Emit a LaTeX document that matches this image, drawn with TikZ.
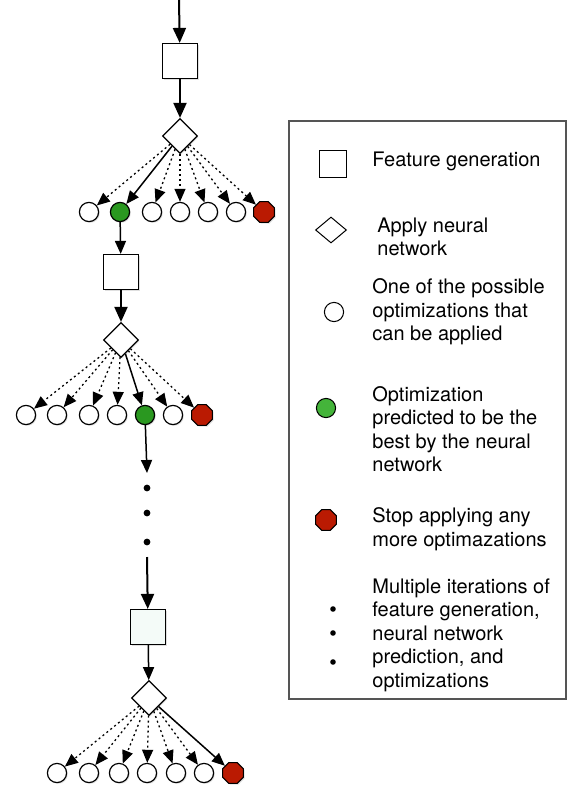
\documentclass[tikz,border=0pt]{standalone}
\usepackage{fontspec}
\setmainfont{TeX Gyre Heros}
\usepackage{tikz}
\usetikzlibrary{arrows.meta,shapes,shadows}
\usepackage{xcolor}
\definecolor{bestgreen}{RGB}{42,152,32}
\definecolor{keygreen}{RGB}{68,180,58}
\definecolor{stopred}{RGB}{186,26,2}
\definecolor{boxgray}{RGB}{85,85,85}
\definecolor{lastfill}{RGB}{244,251,248}

\begin{document}
\begin{tikzpicture}[x=0.5pt, y=-0.5pt,
  soft shadow/.style={drop shadow={shadow xshift=0.6pt, shadow yshift=-0.6pt, opacity=0.25}},
  feat node/.style={rectangle, draw, fill=white, line width=0.6pt, minimum size=17.5pt, inner sep=0, soft shadow},
  nn node/.style={diamond, draw, fill=white, line width=0.6pt, minimum width=17.5pt, minimum height=17.5pt, inner sep=0, soft shadow},
  opt node/.style={circle, draw, fill=white, line width=0.6pt, minimum size=9.6pt, inner sep=0, soft shadow},
  best node/.style={opt node, fill=bestgreen},
  stop node/.style={regular polygon, regular polygon sides=8, draw, fill=stopred, line width=0.5pt, minimum size=11.2pt, inner sep=0, soft shadow},
  dot node/.style={circle, fill, minimum size=3.4pt, inner sep=0},
  main edge/.style={-{Triangle[length=7.5pt,width=6.5pt]}, line width=1pt},
  pick edge/.style={-{Triangle[length=6.5pt,width=5.5pt]}, line width=0.75pt},
  try edge/.style={-{Triangle[length=6.5pt,width=5.5pt]}, line width=0.65pt, dash pattern=on 1pt off 1.5pt},
  key text/.style={anchor=west, align=left, inner sep=0, font=\fontsize{10}{11.75}\selectfont}]
\useasboundingbox (0,0) rectangle (569,788);

% first step
\coordinate (top) at (179,0);
\node[feat node] (f1) at (180,61) {};
\node[nn node] (n1) at (180,136) {};
\node[opt node] (o11) at (89,212) {};
\node[best node] (o12) at (120,212) {};
\node[opt node] (o13) at (152,212) {};
\node[opt node] (o14) at (180,212) {};
\node[opt node] (o15) at (208,212) {};
\node[opt node] (o16) at (236,212) {};
\node[stop node] (o17) at (264,212) {};

% second step
\node[feat node] (f2) at (121,272) {};
\node[nn node] (n2) at (121,340) {};
\node[opt node] (o21) at (26,415) {};
\node[opt node] (o22) at (57,415) {};
\node[opt node] (o23) at (89,415) {};
\node[opt node] (o24) at (117,415) {};
\node[best node] (o25) at (145,415) {};
\node[opt node] (o26) at (173,415) {};
\node[stop node] (o27) at (202,415) {};

% more steps
\coordinate (e1) at (147,473);
\node[dot node] (d1) at (147,488) {};
\node[dot node] (d2) at (147,513) {};
\node[dot node] (d3) at (147,542) {};
\coordinate (e2) at (147,557);

% last step
\node[feat node, fill=lastfill] (f3) at (148,627) {};
\node[nn node] (n3) at (149,698) {};
\node[opt node] (o31) at (57,773) {};
\node[opt node] (o32) at (89,773) {};
\node[opt node] (o33) at (119,773) {};
\node[opt node] (o34) at (147,773) {};
\node[opt node] (o35) at (176,773) {};
\node[opt node] (o36) at (204,773) {};
\node[stop node] (o37) at (233,773) {};

\path[main edge]
(top) edge (f1)
(f1) edge (n1)
(f2) edge (n2)
(e2) edge (f3);
\path[pick edge]
(n1) edge (o12)
(o12) edge (f2)
(n2) edge (o25)
(o25) edge (e1)
(f3) edge (n3)
(n3) edge (o37);
\path[try edge]
(n1) edge (o11) (n1) edge (o13) (n1) edge (o14) (n1) edge (o15) (n1) edge (o16) (n1) edge (o17)
(n2) edge (o21) (n2) edge (o22) (n2) edge (o23) (n2) edge (o24) (n2) edge (o26) (n2) edge (o27)
(n3) edge (o31) (n3) edge (o32) (n3) edge (o33) (n3) edge (o34) (n3) edge (o35) (n3) edge (o36);

% legend
\draw[boxgray, line width=1pt] (289,121) rectangle (566,699);
\node[rectangle, draw, line width=0.5pt, minimum size=13.5pt, inner sep=0] (k1) at (333,164) {};
\node[key text] (t1) at (372,161) {Feature generation};
\node[diamond, draw, line width=0.5pt, minimum width=15.5pt, minimum height=13pt, inner sep=0] (k2) at (331,230) {};
\node[key text] (t2) at (377,237) {Apply neural\\network};
\node[circle, draw, line width=0.5pt, minimum size=9.6pt, inner sep=0] (k3) at (334,312) {};
\node[key text] (t3) at (372,312) {One of the possible\\optimizations that\\can be applied};
\node[circle, draw, line width=0.5pt, fill=keygreen, minimum size=9.6pt, inner sep=0] (k4) at (326,408) {};
\node[key text] (t4) at (372,429) {Optimization\\predicted to be the\\best by the neural\\network};
\node[regular polygon, regular polygon sides=8, draw, line width=0.5pt, fill=stopred, minimum size=11.2pt, inner sep=0] (k5) at (326,520) {};
\node[key text] (t5) at (372,529) {Stop applying any\\more optimazations};
\node[dot node, minimum size=2.8pt] (k6) at (333,609) {};
\node[dot node, minimum size=2.8pt] (k7) at (333,633) {};
\node[dot node, minimum size=2.8pt] (k8) at (333,662) {};
\node[key text] (t6) at (372,635) {Multiple iterations of\\feature generation,\\neural network\\prediction, and\\optimizations};
\end{tikzpicture}
\end{document}
